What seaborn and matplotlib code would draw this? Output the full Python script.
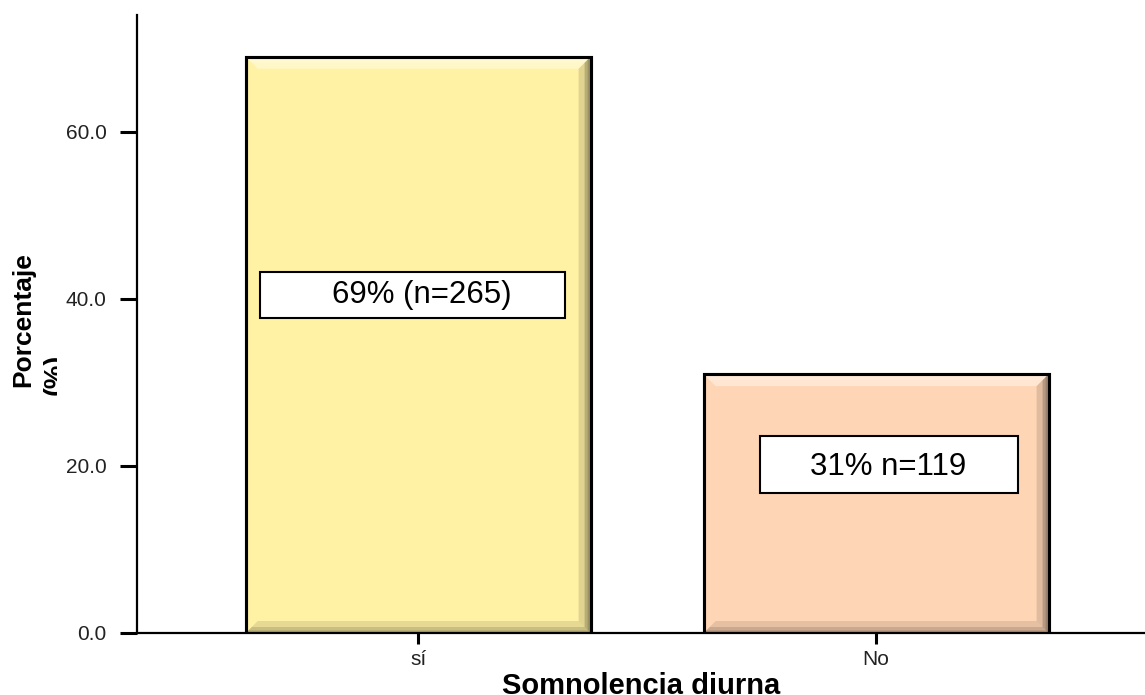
import matplotlib
matplotlib.use("Agg")
import matplotlib.pyplot as plt
from matplotlib.patches import Polygon, Rectangle
from matplotlib.transforms import Bbox
import seaborn as sns
import pandas as pd

categories = ["sí", "No"]
percentages = [69, 31]
counts = [265, 119]
value_labels = ["69% (n=265)", "31% n=119"]
y_ticks = [0, 20, 40, 60]

bar_colors = ["#FFF2A4", "#FFD6B5"]
# text anchors and box centres in data units, box sizes in pixels
text_pos = [(0.007, 40.5), (1.026, 19.9)]
box_pos = [(-0.012, 40.48), (1.028, 20.18)]
box_px = [(305, 46), (258, 57)]

sns.set_theme(style="white")
plt.rcParams["font.family"] = ["Liberation Sans", "DejaVu Sans"]

W, H = 1145, 695
fig = plt.figure(figsize=(W / 100, H / 100), dpi=100)
ax = fig.add_axes([137 / W, 1 - 633 / H, 1 - 137 / W, (633 - 15) / H])

df = pd.DataFrame({"cat": categories, "pct": percentages})
sns.barplot(data=df, x="cat", y="pct", hue="cat", palette=bar_colors,
            saturation=1, width=0.753, edgecolor="black", linewidth=2.2,
            legend=False, ax=ax, zorder=2)

ax.set_xlim(-0.614, 1.587)
ax.set_ylim(0, 74)
ax.set_yticks(y_ticks)
ax.set_yticklabels([f"{v:.1f}" for v in y_ticks])

for s in ["top", "right"]:
    ax.spines[s].set_visible(False)
for s in ["left", "bottom"]:
    ax.spines[s].set_color("black")
    ax.spines[s].set_linewidth(1.6)

ax.tick_params(axis="y", direction="out", length=12, width=2.2, color="black",
               pad=10, labelsize=15, labelcolor="#222222", left=True)
ax.tick_params(axis="x", direction="out", length=8, width=2.2, color="black",
               pad=4, labelsize=15, labelcolor="#222222", bottom=True)

ax.set_xlabel("Somnolencia diurna", fontsize=21, fontweight="bold",
              color="black")
ax.xaxis.set_label_coords(0.5, (633 - 672) / 618)
ax.set_ylabel("Porcentaje", fontsize=19, fontweight="bold", color="black")
ax.yaxis.set_label_coords((35 - 137) / 1008, (633 - 320) / 618)

# second line of the y label, partly hidden by the tick-label column
unit = fig.text(43 / W, 1 - 374 / H, "(%)", rotation=90, rotation_mode="anchor",
                ha="center", va="top", fontsize=19, fontweight="bold",
                color="black")
unit.set_clip_box(Bbox.from_extents(0, 0, 57, H))
unit.set_clip_on(True)

# bevelled look on each bar
fig.canvas.draw()
p0 = ax.transData.transform((0, 0))
p1 = ax.transData.transform((1, 1))
sx = p1[0] - p0[0]
sy = p1[1] - p0[1]


def bevel(x0, y0, x1, y1, b, alphas):
    bx, by = b / sx, b / sy
    top = [(x0, y1), (x1, y1), (x1 - bx, y1 - by), (x0 + bx, y1 - by)]
    right = [(x1, y1), (x1, y0), (x1 - bx, y0 + by), (x1 - bx, y1 - by)]
    bottom = [(x0, y0), (x1, y0), (x1 - bx, y0 + by), (x0 + bx, y0 + by)]
    left = [(x0, y0), (x0, y1), (x0 + bx, y1 - by), (x0 + bx, y0 + by)]
    cols = ["white", "black", "black", "black"]
    for pts, col, a in zip([top, right, bottom, left], cols, alphas):
        if a > 0:
            ax.add_patch(Polygon(pts, closed=True, facecolor=col, alpha=a,
                                 edgecolor="none", zorder=2.5))


for patch in ax.patches[:len(categories)]:
    x0, y0 = patch.get_x(), patch.get_y()
    w, h = patch.get_width(), patch.get_height()
    x1, y1 = x0 + w, y0 + h
    bevel(x0, y0, x1, y1, 12, (0.40, 0.12, 0.10, 0.0))
    bevel(x0, y0, x1, y1, 6, (0.15, 0.18, 0.12, 0.0))
    bevel(x0, y0, x1, y1, 3, (0.0, 0.15, 0.08, 0.0))
    ax.add_patch(Rectangle((x0, y0), w, h, facecolor="none", edgecolor="black",
                           linewidth=2.2, zorder=2.6))

# value labels in white boxes
for (tx, ty), (cx, cy), (bw, bh), txt in zip(text_pos, box_pos, box_px,
                                             value_labels):
    ax.add_patch(Rectangle((cx - bw / 2 / sx, cy - bh / 2 / sy), bw / sx, bh / sy,
                           facecolor="white", edgecolor="black", linewidth=1.5,
                           zorder=3))
    ax.text(tx, ty, txt, ha="center", va="center", fontsize=22.5,
            color="black", zorder=4)

fig.savefig("out.png", dpi=100)
